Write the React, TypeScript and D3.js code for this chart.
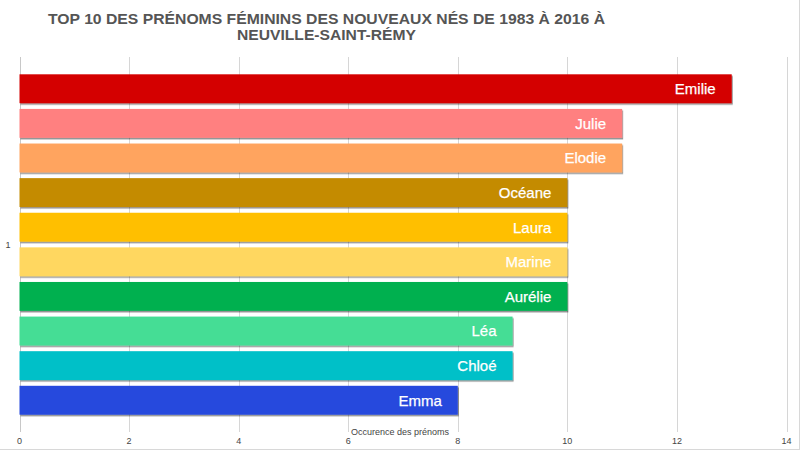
import React from "react";
import * as d3 from "d3";

const names = ["Emilie", "Julie", "Elodie", "Océane", "Laura", "Marine", "Aurélie", "Léa", "Chloé", "Emma"];
const counts = [13, 11, 11, 10, 10, 10, 10, 9, 9, 8];
const colors = ["#d40000", "#ff8080", "#ffa45e", "#c48b00", "#ffbf00", "#ffd760", "#00b050", "#45dd95", "#00c0c8", "#2548dd"];
const xTicks = [0, 2, 4, 6, 8, 10, 12, 14];
const categoryLabel = "1";
const titleLines = ["TOP 10 DES PRÉNOMS FÉMININS DES NOUVEAUX NÉS DE 1983 À 2016 À", "NEUVILLE-SAINT-RÉMY"];
const titleWidths = [557, 179];
const axisTitle = "Occurence des prénoms";

const W = 800;
const H = 450;

export default function App() {
  const x = d3.scaleLinear().domain([0, 14]).range([19.5, 786.5]);
  const y = d3
    .scaleBand<string>()
    .domain(names)
    .range([57, 432])
    .paddingInner(0.165)
    .paddingOuter(0.5);
  const plotTop = 57;
  const plotBottom = 432;
  const sans = "'Liberation Sans', Arial, Helvetica, sans-serif";

  return (
    <svg
      width={W}
      height={H}
      style={{ position: "absolute", left: 0, top: 0, background: "#fff" }}
      fontFamily={sans}
    >
      <defs>
        <filter id="shadow" x="-5%" y="-20%" width="110%" height="150%">
          <feDropShadow dx="1" dy="1.5" stdDeviation="0.7" floodColor="#000" floodOpacity="0.45" />
        </filter>
      </defs>
      <rect x={0} y={0} width={W} height={H} fill="#fff" />
      {/* frame */}
      <line x1={799.5} x2={799.5} y1={0} y2={H} stroke="#d8d8d8" strokeWidth={1} />
      <line x1={0} x2={W} y1={449.5} y2={449.5} stroke="#d8d8d8" strokeWidth={1} />

      {/* title */}
      {titleLines.map((t, i) => (
        <text
          key={i}
          x={326.5}
          y={23.5 + i * 16}
          textAnchor="middle"
          fontFamily="'Liberation Sans Narrow', 'Arial Narrow', 'Liberation Sans', sans-serif"
          fontWeight="bold"
          fontSize={15.5}
          textLength={titleWidths[i]}
          lengthAdjust="spacingAndGlyphs"
          fill="#555"
        >
          {t}
        </text>
      ))}

      {/* gridlines */}
      {xTicks.map((t) => (
        <line
          key={t}
          x1={Math.round(x(t)) + 0.5}
          x2={Math.round(x(t)) + 0.5}
          y1={plotTop}
          y2={plotBottom}
          stroke={t === 0 ? "#c8c8c8" : "#d6d6d6"}
          strokeWidth={1}
        />
      ))}

      {/* bars */}
      {names.map((n, i) => (
        <g key={n}>
          <rect
            x={x(0)}
            y={y(n)!}
            width={x(counts[i]) - x(0)}
            height={y.bandwidth()}
            fill={colors[i]}
            filter="url(#shadow)"
          />
          <text
            x={x(counts[i]) - 16}
            y={y(n)! + y.bandwidth() / 2}
            dy="0.36em"
            textAnchor="end"
            fontSize={15}
            fill="#fff"
            stroke="#fff"
            strokeWidth={0.25}
          >
            {n}
          </text>
        </g>
      ))}

      {/* x tick labels */}
      {xTicks.map((t) => (
        <text key={t} x={x(t)} y={444} textAnchor="middle" fontSize={9} fill="#444">
          {t}
        </text>
      ))}

      {/* axis title */}
      <text x={400} y={435} textAnchor="middle" fontSize={9} fill="#444">
        {axisTitle}
      </text>

      {/* category label */}
      <text x={8} y={(plotTop + plotBottom) / 2} dy="0.35em" textAnchor="middle" fontSize={9} fill="#444">
        {categoryLabel}
      </text>
    </svg>
  );
}
